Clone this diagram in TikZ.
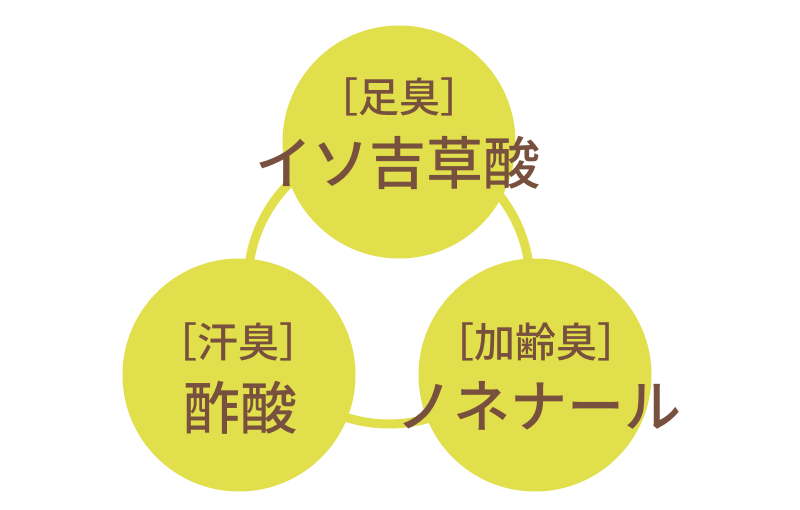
\documentclass[tikz,border=0pt]{standalone}
\usepackage{fontspec}
\newfontfamily\jpfont{Noto Sans CJK JP Medium}
\definecolor{leaf}{RGB}{225,223,75}
\definecolor{bark}{RGB}{120,80,62}
\tikzset{%
    smell/.style={circle,fill=leaf,inner sep=0pt,minimum size=233pt},
    kind/.style={inner sep=0pt,text=bark,font=\jpfont\fontsize{41pt}{41pt}\selectfont},
    acid/.style={inner sep=0pt,text=bark,font=\jpfont\fontsize{57pt}{57pt}\selectfont},
    ring/.style={draw=leaf,line width=9pt},
}
\begin{document}
\begin{tikzpicture}[x=1pt,y=-1pt]
        \useasboundingbox (0,0) rectangle (800,510);
        \coordinate (mid) at (389,283);
        \draw[ring] (mid) circle (141);

        \node [smell] (foot) at (399,142) {};
        \node [smell] (sweat) at (239,375) {};
        \node [smell] (age) at (535,375) {};

        \node [kind] (footkind) at (399,97) {［足臭］};
        \node [acid] (footacid) at (398,163) {イソ吉草酸};

        \node [kind] (sweatkind) at (238,342) {［汗臭］};
        \node [acid] (sweatacid) at (240,408) {酢酸};

        \node [kind] (agekind) at (536,342) {［加齢臭］};
        \node [acid] (ageacid) at (539,406) {ノネナール};
    \end{tikzpicture}
\end{document}
